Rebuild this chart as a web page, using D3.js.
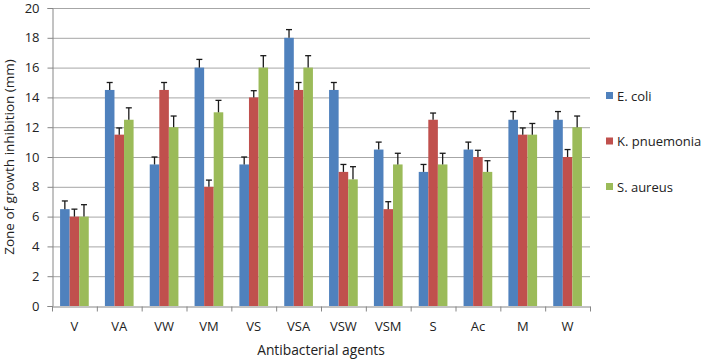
<!DOCTYPE html>
<html>
<head>
<meta charset="utf-8">
<script src="https://cdn.jsdelivr.net/npm/d3@7"></script>
<style>
  html, body { margin: 0; padding: 0; background: #fff; }
  svg { display: block; font-family: "Open Sans", sans-serif; }
</style>
</head>
<body>
<svg id="chart" width="710" height="361"></svg>
<script>
const categories = ["V", "VA", "VW", "VM", "VS", "VSA", "VSW", "VSM", "S", "Ac", "M", "W"];
const seriesNames = ["E. coli", "K. pnuemonia", "S. aureus"];
const ecoli      = [6.5, 14.5, 9.5, 16, 9.5, 18, 14.5, 10.5, 9, 10.5, 12.5, 12.5];
const kpneumonia = [6, 11.5, 14.5, 8, 14, 14.5, 9, 6.5, 12.5, 10, 11.5, 10];
const saureus    = [6, 12.5, 12, 13, 16, 16, 8.5, 9.5, 9.5, 9, 11.5, 12];
const ecoliErr      = [0.55, 0.5, 0.5, 0.55, 0.5, 0.55, 0.5, 0.5, 0.5, 0.5, 0.55, 0.55];
const kpneumoniaErr = [0.5, 0.45, 0.5, 0.45, 0.45, 0.5, 0.5, 0.5, 0.45, 0.45, 0.45, 0.5];
const saureusErr    = [0.8, 0.8, 0.75, 0.8, 0.8, 0.8, 0.85, 0.75, 0.75, 0.75, 0.75, 0.75];
const yTicks = [0, 2, 4, 6, 8, 10, 12, 14, 16, 18, 20];
const colors = ["#4F81BD", "#C0504D", "#9BBB59"];

const values = [ecoli, kpneumonia, saureus];
const errors = [ecoliErr, kpneumoniaErr, saureusErr];

const svg = d3.select("#chart");
const m = { left: 52, right: 120, top: 8, bottom: 55 };
const W = 710, H = 361;
const x0 = d3.scaleBand().domain(categories).range([m.left, W - m.right]).padding(0);
const bw = x0.bandwidth();
const x1 = d3.scaleBand().domain([0, 1, 2]).range([bw * 0.18, bw * 0.82]).padding(0);
const y = d3.scaleLinear().domain([0, 20]).range([H - m.bottom, m.top]);

// gridlines
svg.append("g")
  .selectAll("line").data(yTicks.filter(d => d > 0)).join("line")
  .attr("x1", m.left).attr("x2", W - m.right)
  .attr("y1", d => y(d) + 0.5).attr("y2", d => y(d) + 0.5)
  .attr("stroke", "#A6A6A6").attr("stroke-width", 1);

// bars
const data = [];
categories.forEach((c, i) => {
  for (let s = 0; s < 3; s++) data.push({ c, s, v: values[s][i], e: errors[s][i] });
});
svg.append("g").selectAll("rect").data(data).join("rect")
  .attr("x", d => x0(d.c) + x1(d.s))
  .attr("width", x1.bandwidth())
  .attr("y", d => y(d.v))
  .attr("height", d => y(0) - y(d.v))
  .attr("fill", d => colors[d.s]);

// error bars
const eg = svg.append("g").attr("stroke", "#1a1a1a").attr("stroke-width", 1.3);
data.forEach(d => {
  const cx = x0(d.c) + x1(d.s) + x1.bandwidth() / 2;
  eg.append("line").attr("x1", cx).attr("x2", cx).attr("y1", y(d.v)).attr("y2", y(d.v + d.e));
  eg.append("line").attr("x1", cx - 3).attr("x2", cx + 3).attr("y1", y(d.v + d.e)).attr("y2", y(d.v + d.e));
});

// y axis
const yAxis = d3.axisLeft(y).tickValues(yTicks).tickSize(5).tickPadding(8);
const yg = svg.append("g").attr("transform", `translate(${m.left + 0.5},0)`).call(yAxis);
yg.select(".domain").attr("stroke", "#868686");
yg.selectAll(".tick line").attr("stroke", "#868686");
yg.selectAll(".tick text").attr("font-size", 13).attr("fill", "#222").attr("font-family", "Open Sans");

// x axis
const xAxis = d3.axisBottom(x0).tickSize(0).tickPadding(15);
const xg = svg.append("g").attr("transform", `translate(0,${y(0) + 0.5})`).call(xAxis);
xg.select(".domain").attr("stroke", "#868686");
xg.selectAll(".tick text").attr("font-size", 13).attr("fill", "#222").attr("font-family", "Open Sans");
// boundary tick marks
xg.append("g").selectAll("line").data(categories.concat(["__end"])).join("line")
  .attr("x1", (d, i) => m.left + i * bw + 0.5).attr("x2", (d, i) => m.left + i * bw + 0.5)
  .attr("y1", 0).attr("y2", 5).attr("stroke", "#868686");

// axis titles
svg.append("text").attr("x", 321).attr("y", 355)
  .attr("text-anchor", "middle").attr("font-size", 13.8).attr("fill", "#222")
  .text("Antibacterial agents");
svg.append("text").attr("transform", "translate(14,157) rotate(-90)")
  .attr("text-anchor", "middle").attr("font-size", 13.5).attr("fill", "#222")
  .text("Zone of growth inhibition (mm)");

// legend
const lg = svg.append("g").selectAll("g").data(seriesNames).join("g")
  .attr("transform", (d, i) => `translate(606,${96 + i * 45.5})`);
lg.append("rect").attr("x", 0).attr("y", -4).attr("width", 7).attr("height", 7)
  .attr("fill", (d, i) => colors[i]);
lg.append("text").attr("x", 11).attr("y", 0).attr("dy", "0.35em")
  .attr("font-size", 13).attr("fill", "#222").text(d => d);
</script>
</body>
</html>
